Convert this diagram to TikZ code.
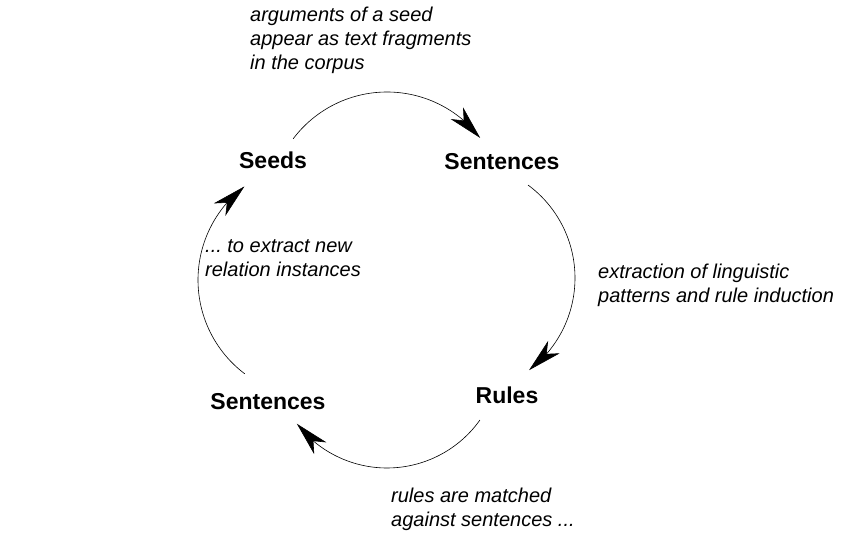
\documentclass[tikz,border=0pt]{standalone}
\usepackage{fontspec}
\setmainfont{Liberation Sans}
\usetikzlibrary{arrows.meta,bending}

\tikzset{
  stage/.style={font=\fontsize{23}{27}\selectfont\bfseries, inner sep=0pt},
  remark/.style={font=\fontsize{20}{24}\selectfont\itshape, align=left, inner sep=0pt, anchor=north west},
  turn/.style={line width=0.6pt, -{Stealth[length=34pt,width=17pt,inset=10pt]}}
}

\begin{document}
\begin{tikzpicture}[x=1pt,y=1pt]
\useasboundingbox (0,0) rectangle (842,546);
% the four stages
\node[stage] (seeds) at (273,386) {Seeds};
\node[stage] (found) at (502,384) {Sentences};
\node[stage] (rules) at (507,151) {Rules};
\node[stage] (match) at (268,144) {Sentences};
% comments on each step
\node[remark] (seedtxt) at (250,539.5) {arguments of a seed\\appear as text fragments\\in the corpus};
\node[remark] (ruletxt) at (598,282.5) {extraction of linguistic\\patterns and rule induction};
\node[remark] (matchtxt) at (391,58.5) {rules are matched\\against sentences ...};
\node[remark] (newtxt) at (205,307) {...\ to extract new\\relation instances};
% centres of the four arcs
\coordinate (topc) at (387,336.5);
\coordinate (rightc) at (459.5,268);
\coordinate (botc) at (387,192);
\coordinate (leftc) at (315.5,266);
% the cycle
\draw[turn] ([shift={(143:117.5)}]topc) arc[start angle=143, end angle=37.5, radius=117.5];
\draw[turn] ([shift={(53.6:115.5)}]rightc) arc[start angle=53.6, end angle=-53, radius=115.5];
\draw[turn] ([shift={(-35.4:114)}]botc) arc[start angle=-35.4, end angle=-142.3, radius=114];
\draw[turn] ([shift={(233:117.5)}]leftc) arc[start angle=233, end angle=127.2, radius=117.5];
\end{tikzpicture}
\end{document}
